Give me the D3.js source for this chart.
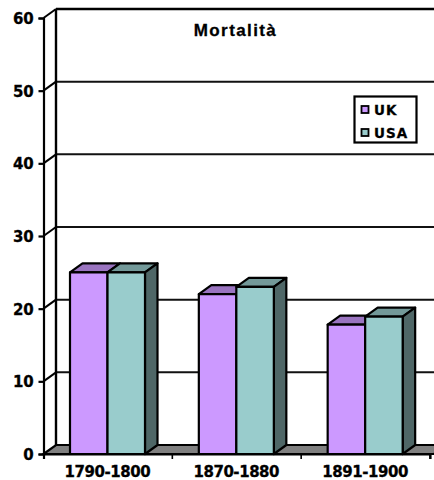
<!DOCTYPE html>
<html><head><meta charset="utf-8"><style>html,body{margin:0;padding:0;background:#fff}svg{display:block}text{font-family:"DejaVu Sans";font-weight:bold;fill:#000}</style>
<script src="https://cdn.jsdelivr.net/npm/d3@7"></script></head><body><script>
const categories=["1790-1800","1870-1880","1891-1900"];
const seriesNames=["UK","USA"];
const uk=[25,22,17.8];
const usa=[25,23,18.9];
const yTicks=[0,10,20,30,40,50,60];
const colors={UK:"#cc99ff",USA:"#99cccc"};
const tops={UK:"#9a74c0",USA:"#739999"};
const sideColor="#4f6767";
const W=434,H=480,DX=12.5,DY=-9;
const svg=d3.select("body").append("svg").attr("width",W).attr("height",H);
const y=d3.scaleLinear().domain([0,60]).range([454,18]);
const x=d3.scaleBand().domain(categories).range([43.5,430]);
const inner=d3.scaleBand().domain(seriesNames).range([26.5,101.5]);
// floor
svg.append("path").attr("d",`M${x.range()[0]},${y(0)}L${x.range()[0]+DX},${y(0)+DY}H${W+10}L${W},${y(0)}Z`).attr("fill","#808080").attr("stroke","#000").attr("stroke-width",2.2);
// grid
const grid=svg.append("g");
yTicks.forEach(t=>{
  const yb=y(t)+DY,isTop=t===60;
  if(t>0){
    grid.append("line").attr("x1",x.range()[0]+DX).attr("x2",W).attr("y1",yb).attr("y2",yb).attr("stroke",isTop?"#000":"#111").attr("stroke-width",isTop?2.6:2);
    grid.append("line").attr("x1",x.range()[0]).attr("x2",x.range()[0]+DX).attr("y1",y(t)).attr("y2",yb).attr("stroke","#000").attr("stroke-width",2);
  }
});
grid.append("line").attr("x1",x.range()[0]+DX).attr("x2",x.range()[0]+DX).attr("y1",y(0)+DY).attr("y2",y(60)+DY).attr("stroke","#000").attr("stroke-width",2.4);
// bars
const data=categories.map((c,i)=>({c,vals:[{s:"UK",v:uk[i]},{s:"USA",v:usa[i]}]}));
const marks=svg.append("g");
data.forEach(d=>{
  d.vals.forEach(r=>{
    const xl=x(d.c)+inner(r.s),w=inner.bandwidth(),yt=y(r.v),yb=y(0);
    const g=marks.append("g").attr("stroke","#000").attr("stroke-width",2.2).attr("stroke-linejoin","round");
    g.append("path").attr("d",`M${xl},${yt}l${DX},${DY}h${w}l${-DX},${-DY}Z`).attr("fill",tops[r.s]);
    if(r.s==="USA") g.append("path").attr("d",`M${xl+w},${yt}l${DX},${DY}V${yb+DY}l${-DX},${-DY}Z`).attr("fill",sideColor);
    g.append("rect").attr("x",xl).attr("y",yt).attr("width",w).attr("height",yb-yt).attr("fill",colors[r.s]);
  });
});
// axes
const yAxis=d3.axisLeft(y).tickValues(yTicks).tickSize(5).tickPadding(5).tickFormat(d3.format("d"));
const ya=svg.append("g").attr("transform",`translate(${x.range()[0]},0)`).call(yAxis);
ya.selectAll("path,line").attr("stroke","#000").attr("stroke-width",2.2);
ya.selectAll("text").attr("font-size",15).attr("letter-spacing",-0.2).attr("dy","0.37em").attr("stroke","#000").attr("stroke-width",0.3).style("font-family","DejaVu Sans").style("font-weight","bold");
const xa=svg.append("g").attr("transform",`translate(0,${y(0)})`).call(d3.axisBottom(x).tickSize(5).tickPadding(7).tickValues(categories));
xa.selectAll(".tick line").remove();
xa.select("path").attr("stroke","#000").attr("stroke-width",2.2);
xa.selectAll("text").attr("font-size",15).attr("dx",-0.5).attr("letter-spacing",-0.45).attr("stroke","#000").attr("stroke-width",0.3).style("font-family","DejaVu Sans").style("font-weight","bold");
x.domain().forEach(c=>{
  const p=x(c)+x.bandwidth();
  svg.append("line").attr("x1",p).attr("x2",p).attr("y1",y(0)).attr("y2",y(0)+5).attr("stroke","#000").attr("stroke-width",1.6);
});
// title
svg.append("text").attr("x",235.5).attr("y",35.5).attr("text-anchor","middle").attr("font-size",17).attr("letter-spacing",1.4).attr("stroke","#000").attr("stroke-width",0.3).style("font-family","Liberation Sans").text("Mortalità");
// legend
const lg=svg.append("g");
lg.append("rect").attr("x",354.5).attr("y",96.5).attr("width",62).attr("height",46).attr("fill","#fff").attr("stroke","#000").attr("stroke-width",2.2);
seriesNames.forEach((s,i)=>{
  const yy=109.5+i*23;
  lg.append("rect").attr("x",361.5).attr("y",yy-3.5).attr("width",7).attr("height",7).attr("fill",colors[s]).attr("stroke","#000").attr("stroke-width",1.8);
  lg.append("text").attr("x",374).attr("y",yy+5).attr("font-size",13.5).attr("letter-spacing",1).attr("stroke","#000").attr("stroke-width",0.3).text(s);
});
</script></body></html>
